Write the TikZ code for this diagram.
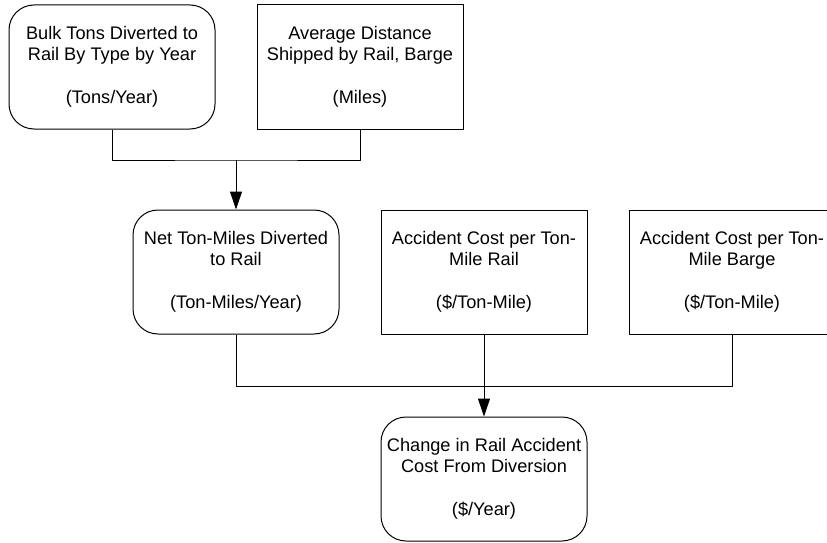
\documentclass[tikz,border=0pt]{standalone}
\usepackage{fontspec}
\setmainfont{Liberation Sans}
\usetikzlibrary{positioning,calc,arrows.meta}

\tikzset{
  box/.style={draw, line width=1pt, minimum width=206pt, minimum height=124pt,
    inner sep=0pt, align=center, font=\fontsize{18.2}{21.5}\selectfont},
  roundbox/.style={box, rounded corners=25pt},
  squarebox/.style={box},
  link/.style={line width=1pt},
}

\begin{document}
\begin{tikzpicture}[x=1pt, y=-1pt, line join=round, >={Triangle[length=18pt,width=12pt]}]
		\useasboundingbox (0,0) rectangle (827,543);
		\clip (0,0) rectangle (827,543);
		% top row
		\node[roundbox] (tons) at (112,67) {Bulk Tons Diverted to\\Rail By Type by Year\\[21.5pt](Tons/Year)};
		\node[squarebox] (dist) at (360,67) {Average Distance\\Shipped by Rail, Barge\\[21.5pt](Miles)};
		% middle row
		\node[roundbox] (tonmiles) at (236,272) {Net Ton-Miles Diverted\\to Rail\\[21.5pt](Ton-Miles/Year)};
		\node[squarebox] (costrail) at (484,272) {Accident Cost per Ton-\\Mile Rail\\[21.5pt](\$/Ton-Mile)};
		\node[squarebox] (costbarge) at (732,272) {Accident Cost per Ton-\\Mile Barge\\[21.5pt](\$/Ton-Mile)};
		% result
		\node[roundbox] (change) at (484,479) {Change in Rail Accident\\Cost From Diversion\\[21.5pt](\$/Year)};
		% connectors
		\coordinate (topjoin) at (236,160);
		\coordinate (midjoin) at (484,386.5);
		\draw[link] (tons.south) |- (topjoin) -| (dist.south);
		\draw[link, ->] (topjoin) -- (tonmiles.north);
		\draw[link] (tonmiles.south) |- (midjoin) -| (costbarge.south);
		\draw[link, ->] (costrail.south) -- (change.north);
	\end{tikzpicture}
\end{document}
